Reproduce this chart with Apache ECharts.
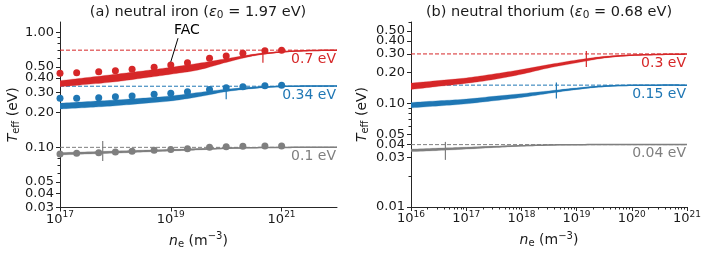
<!DOCTYPE html>
<html><head><meta charset="utf-8">
<script src="https://cdn.jsdelivr.net/npm/echarts@6/dist/echarts.min.js"></script>
<style>html,body{margin:0;padding:0;background:#fff}#c{width:708px;height:254px}</style>
</head><body><div id="c"></div>
<script>
// ---------------- data: (a) neutral iron ----------------
const ironCurveNe = [1e17, 3.16e17, 1e18, 3.16e18, 1e19, 3.16e19, 1e20, 3.16e20, 1e21, 3.16e21, 1e22];
const ironRedUpper  = [0.380, 0.405, 0.432, 0.462, 0.497, 0.538, 0.590, 0.645, 0.680, 0.695, 0.700];
const ironRedLower  = [0.337, 0.353, 0.372, 0.400, 0.432, 0.471, 0.548, 0.625, 0.672, 0.692, 0.700];
const ironBlueUpper = [0.242, 0.250, 0.258, 0.268, 0.280, 0.300, 0.320, 0.335, 0.341, 0.342, 0.342];
const ironBlueLower = [0.2155, 0.222, 0.230, 0.241, 0.253, 0.275, 0.305, 0.325, 0.337, 0.340, 0.341];
const ironGrayUpper = [0.0900, 0.0915, 0.0930, 0.0945, 0.0960, 0.0975, 0.0990, 0.0997, 0.1000, 0.1000, 0.1000];
const ironGrayLower = [0.0860, 0.0875, 0.0890, 0.0910, 0.0930, 0.0950, 0.0975, 0.0990, 0.0998, 0.1000, 0.1000];
const ironDotNe = [1e17, 2e17, 5e17, 1e18, 2e18, 5e18, 1e19, 2e19, 5e19, 1e20, 2e20, 5e20, 1e21];
const ironRedDots  = [0.440, 0.446, 0.454, 0.464, 0.477, 0.496, 0.520, 0.545, 0.594, 0.622, 0.657, 0.692, 0.700];
const ironBlueDots = [0.267, 0.267, 0.270, 0.275, 0.279, 0.289, 0.295, 0.305, 0.319, 0.330, 0.337, 0.343, 0.346];
const ironGrayDots = [0.0875, 0.0887, 0.0898, 0.0910, 0.0923, 0.0942, 0.0960, 0.0972, 0.1000, 0.1012, 0.1020, 0.1026, 0.1026];
const ironLimits = [0.7, 0.34, 0.1];
const ironLimitLabels = ['0.7 eV', '0.34 eV', '0.1 eV'];
const ironMarkers = [[4.6e20, 0.625], [1e20, 0.295], [5.9e17, 0.0932]]; // red, blue, gray
const ironXTicks = [1e17, 1e19, 1e21];
const ironYTicks = [0.03, 0.04, 0.05, 0.1, 0.2, 0.3, 0.4, 0.5, 1.0];
const ironYLabels = [0.03, 0.04, 0.05, 0.1, 0.2, 0.3, 0.4, 0.5, 1.0];
const ironYLabelsExtra = [];
const ironYMinor = [0.06, 0.07, 0.08, 0.09, 0.6, 0.7, 0.8, 0.9];
const ironFacArrow = [[1.35e19, 0.89], [1e19, 0.555]];
const ironFacText = [1.95e19, 1.05];

// ---------------- data: (b) neutral thorium ----------------
const thCurveNe = [1e16, 3.16e16, 1e17, 3.16e17, 1e18, 3.16e18, 1e19, 3.16e19, 1e20, 3.16e20, 1e21];
const thRedUpper  = [0.157, 0.166, 0.176, 0.192, 0.212, 0.237, 0.262, 0.284, 0.293, 0.297, 0.299];
const thRedLower  = [0.136, 0.146, 0.156, 0.170, 0.191, 0.220, 0.246, 0.274, 0.290, 0.296, 0.299];
const thBlueUpper = [0.102, 0.106, 0.110, 0.117, 0.124, 0.132, 0.141, 0.148, 0.150, 0.150, 0.150];
const thBlueLower = [0.0905, 0.0945, 0.099, 0.106, 0.114, 0.125, 0.136, 0.145, 0.149, 0.150, 0.150];
const thGrayUpper = [0.0362, 0.0370, 0.0378, 0.0386, 0.0393, 0.0398, 0.0400, 0.0400, 0.0400, 0.0400, 0.0400];
const thGrayLower = [0.0342, 0.0351, 0.0362, 0.0375, 0.0387, 0.0395, 0.0399, 0.0400, 0.0400, 0.0400, 0.0400];
const thLimits = [0.3, 0.15, 0.04];
const thLimitLabels = ['0.3 eV', '0.15 eV', '0.04 eV'];
const thMarkers = [[1.5e19, 0.268], [4.3e18, 0.133], [4.2e16, 0.0348]];
const thXTicks = [1e16, 1e17, 1e18, 1e19, 1e20, 1e21];
const thXMinor = [];
for (const d of [1e16, 1e17, 1e18, 1e19, 1e20]) for (const m of [2,3,4,5,6,7,8,9]) thXMinor.push(m * d);
const thYTicks = [0.01, 0.03, 0.04, 0.05, 0.1, 0.2, 0.3, 0.4, 0.5];
const thYLabels = [0.01, 0.03, 0.04, 0.05, 0.1, 0.2, 0.3, 0.5];
const thYLabelsExtra = [0.4];   // drawn on the companion axis so it is not dropped as overlapping
const thYMinor = [0.02, 0.06, 0.07, 0.08, 0.09, 0.6];

// ---------------- styling / building ----------------
const FONT = 'DejaVu Sans';
const INK = '#1a1a1a';
const AX = '#262626';
const COLORS = ['#d62728', '#1f77b4', '#7f7f7f'];

const zip = (xs, ys) => xs.map((x, i) => [x, ys[i]]);
const zip3 = (xs, us, ls) => xs.map((x, i) => [x, us[i], ls[i]]);

const supRich = {
  b: {fontSize: 13, fontFamily: FONT, color: INK},
  s: {fontSize: 9, fontFamily: FONT, color: INK, padding: [0, 0, 9, 0]}
};
const nameRich = {
  i: {fontSize: 14, fontFamily: FONT, fontStyle: 'italic', color: INK},
  sub: {fontSize: 10, fontFamily: FONT, color: INK, padding: [6, 0, 0, 0]},
  sup: {fontSize: 10, fontFamily: FONT, color: INK, padding: [0, 0, 9, 0]}
};

function xMain(gi, min, max, ticks) {
  return {
    type: 'log', logBase: 10, gridIndex: gi, min, max, position: 'bottom',
    axisLine: {show: true, onZero: false, lineStyle: {color: AX, width: 1}},
    axisTick: {show: true, customValues: ticks, length: 4, lineStyle: {color: AX, width: 1}},
    axisLabel: {show: true, customValues: ticks, margin: 3, showMinLabel: true, showMaxLabel: true, hideOverlap: false,
      formatter: v => '{b|10}{s|' + Math.round(Math.log10(v)) + '}', rich: supRich},
    splitLine: {show: false},
    name: '{i|n}{sub|e} (m{sup|\u22123})', nameLocation: 'middle', nameGap: 24,
    nameTextStyle: {fontSize: 14, fontFamily: FONT, color: INK, rich: nameRich}
  };
}
function xMinor(gi, min, max, ticks) {
  return {
    type: 'log', logBase: 10, gridIndex: gi, min, max, position: 'bottom',
    axisLine: {show: false, onZero: false}, axisLabel: {show: false}, splitLine: {show: false},
    axisTick: {show: true, customValues: ticks, length: 2.5, lineStyle: {color: AX, width: 1}}
  };
}
const yLabelStyle = {margin: 6, fontSize: 13, fontFamily: FONT, color: INK,
  showMinLabel: true, showMaxLabel: true, hideOverlap: false, formatter: v => v.toFixed(2)};
function yMain(gi, min, max, ticks, labels, gap) {
  return {
    type: 'log', logBase: 10, gridIndex: gi, min, max, position: 'left',
    axisLine: {show: true, onZero: false, lineStyle: {color: AX, width: 1}},
    axisTick: {show: true, customValues: ticks, length: 4, lineStyle: {color: AX, width: 1}},
    axisLabel: Object.assign({show: true, customValues: labels}, yLabelStyle),
    splitLine: {show: false},
    name: '{i|T}{sub|eff} (eV)', nameLocation: 'middle', nameGap: gap, nameRotate: 90,
    nameTextStyle: {fontSize: 14, fontFamily: FONT, color: INK, rich: nameRich}
  };
}
function yMinor(gi, min, max, ticks, labels) {
  return {
    type: 'log', logBase: 10, gridIndex: gi, min, max, position: 'left',
    axisLine: {show: false, onZero: false}, splitLine: {show: false},
    axisLabel: Object.assign({show: labels.length > 0, customValues: labels}, yLabelStyle),
    axisTick: {show: true, customValues: ticks, length: 2.5, lineStyle: {color: AX, width: 1}}
  };
}

// Catmull-Rom through pixel points (rendering only)
function spline(pts, steps) {
  const out = [];
  for (let i = 0; i < pts.length - 1; i++) {
    const p0 = pts[Math.max(0, i - 1)], p1 = pts[i], p2 = pts[i + 1], p3 = pts[Math.min(pts.length - 1, i + 2)];
    for (let s = 0; s < steps; s++) {
      const t = s / steps, t2 = t * t, t3 = t2 * t;
      const f = (a, b, c, d) => 0.5 * ((2 * b) + (-a + c) * t + (2 * a - 5 * b + 4 * c - d) * t2 + (-a + 3 * b - 3 * c + d) * t3);
      out.push([f(p0[0], p1[0], p2[0], p3[0]), f(p0[1], p1[1], p2[1], p3[1])]);
    }
  }
  out.push(pts[pts.length - 1]);
  return out;
}

function bandRender(color) {
  return function (params, api) {
    if (params.dataIndexInside !== 0) return;
    const n = params.dataInsideLength;
    const up = [], lo = [], mid = [];
    for (let i = 0; i < n; i++) {
      const x = api.value(0, i);
      const a = api.coord([x, api.value(1, i)]);
      const b = api.coord([x, api.value(2, i)]);
      up.push(a); lo.push(b); mid.push([(a[0] + b[0]) / 2, (a[1] + b[1]) / 2]);
    }
    return {type: 'group', children: [
      {type: 'polygon', shape: {points: spline(up, 10).concat(spline(lo, 10).reverse())},
        style: {fill: color, stroke: color, lineWidth: 0.3}},
      {type: 'polyline', shape: {points: spline(mid, 10)},
        style: {fill: null, stroke: color, lineWidth: 1.5}}
    ]};
  };
}

function panelSeries(xi, yi, xmin, xmax, curveNe, bands, limits, limitLabels, markers, markerH) {
  const out = [];
  limits.forEach((v, k) => {
    out.push({
      type: 'line', xAxisIndex: xi, yAxisIndex: yi, data: [[xmin, v], [xmax, v]],
      symbol: 'none', silent: true, z: 1,
      lineStyle: {color: COLORS[k], width: 1, type: [4, 2]},
      markPoint: {symbol: 'circle', symbolSize: 0, silent: true, animation: false,
        data: [{coord: [xmax, v], label: {show: true, formatter: limitLabels[k], position: [-1, 2],
          align: 'right', verticalAlign: 'top', fontSize: 14, fontFamily: FONT, color: COLORS[k]}}]}
    });
  });
  bands.forEach((b, k) => {
    out.push({type: 'custom', xAxisIndex: xi, yAxisIndex: yi, data: zip3(curveNe, b[0], b[1]),
      encode: {x: 0, y: [1, 2]}, renderItem: bandRender(COLORS[k]), clip: true, silent: true, z: 2});
  });
  markers.forEach((m, k) => {
    out.push({type: 'scatter', xAxisIndex: xi, yAxisIndex: yi, data: [m], symbol: 'rect',
      symbolSize: [1.2, markerH[k]], itemStyle: {color: COLORS[k], opacity: 1}, silent: true, z: 3});
  });
  return out;
}

const IRON_XMAX = 1e22, TH_XMAX = 1.000001e21;
const series = [];
series.push(...panelSeries(0, 0, 1e17, IRON_XMAX, ironCurveNe,
  [[ironRedUpper, ironRedLower], [ironBlueUpper, ironBlueLower], [ironGrayUpper, ironGrayLower]],
  ironLimits, ironLimitLabels, ironMarkers, [14, 12, 20]));
[ironRedDots, ironBlueDots, ironGrayDots].forEach((d, k) => {
  const s = {type: 'scatter', xAxisIndex: 0, yAxisIndex: 0, data: zip(ironDotNe, d),
    symbol: 'circle', symbolSize: 7, itemStyle: {color: COLORS[k], opacity: 1}, silent: true, z: 4};
  if (k === 0) {
    s.markLine = {silent: true, animation: false, symbolSize: [0, 6],
      lineStyle: {color: '#000', width: 1, type: 'solid'}, label: {show: false},
      data: [[{coord: ironFacArrow[0], symbol: 'none'}, {coord: ironFacArrow[1], symbol: 'arrow'}]]};
    s.markPoint = {symbol: 'circle', symbolSize: 0, silent: true, animation: false,
      data: [{coord: ironFacText, label: {show: true, formatter: 'FAC', position: [0, 0],
        align: 'center', verticalAlign: 'middle', fontSize: 14, fontFamily: FONT, color: '#000'}}]};
  }
  series.push(s);
});
series.push(...panelSeries(1, 2, 1e16, 1e21, thCurveNe,
  [[thRedUpper, thRedLower], [thBlueUpper, thBlueLower], [thGrayUpper, thGrayLower]],
  thLimits, thLimitLabels, thMarkers, [16, 16, 18]));

const titleRich = {
  i: {fontSize: 14.5, fontFamily: FONT, fontStyle: 'italic', color: INK},
  sub: {fontSize: 10.5, fontFamily: FONT, color: INK, padding: [6, 0, 0, 0]}
};
const option = {
  animation: false,
  backgroundColor: '#fff',
  title: [
    {text: '(a) neutral iron ({i|\u03b5}{sub|0} = 1.97 eV)', left: 198, top: 4, padding: 0, textAlign: 'center',
      textStyle: {fontSize: 14.5, fontWeight: 'normal', fontFamily: FONT, color: INK, rich: titleRich}},
    {text: '(b) neutral thorium ({i|\u03b5}{sub|0} = 0.68 eV)', left: 549, top: 4, padding: 0, textAlign: 'center',
      textStyle: {fontSize: 14.5, fontWeight: 'normal', fontFamily: FONT, color: INK, rich: titleRich}}
  ],
  grid: [
    {left: 60, top: 22, right: 371, bottom: 46.5, outerBoundsMode: 'none'},
    {left: 411, top: 22, right: 21, bottom: 47, outerBoundsMode: 'none'}
  ],
  xAxis: [
    xMain(0, 1e17, IRON_XMAX, ironXTicks),
    xMain(1, 1e16, TH_XMAX, thXTicks),
    xMinor(1, 1e16, TH_XMAX, thXMinor)
  ],
  yAxis: [
    yMain(0, 0.03, 1.23, ironYTicks, ironYLabels, 37),
    yMinor(0, 0.03, 1.23, ironYMinor, ironYLabelsExtra),
    yMain(1, 0.01, 0.61, thYTicks, thYLabels, 41),
    yMinor(1, 0.01, 0.61, thYMinor, thYLabelsExtra)
  ],
  series
};
const chart = echarts.init(document.getElementById('c'));
chart.setOption(option);
</script>
</body></html>
